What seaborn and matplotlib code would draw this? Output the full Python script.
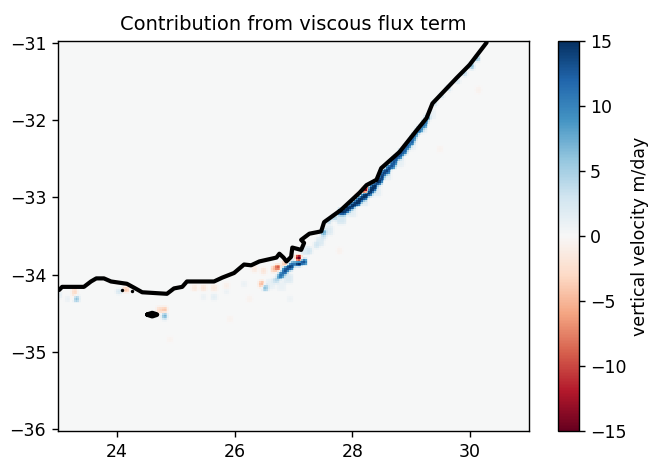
import numpy as np
import pandas as pd
import matplotlib
matplotlib.use("Agg")
import matplotlib.pyplot as plt
import seaborn as sns

title = "Contribution from viscous flux term"
cbar_label = "vertical velocity m/day"
x_ticks = [24, 26, 28, 30]
y_ticks = [-31, -32, -33, -34, -35, -36]
cbar_ticks = [-15, -10, -5, 0, 5, 10, 15]

coast_lon = [23.02, 23.07, 23.44, 23.56, 23.65, 23.78, 23.90, 24.17, 24.29, 24.43, 24.85, 24.97, 25.11, 25.19,
             25.65, 25.79, 25.99, 26.16, 26.28, 26.42, 26.71, 26.76, 26.83, 26.88, 26.96, 26.98, 27.13, 27.18,
             27.13, 27.27, 27.47, 27.52, 27.81, 28.12, 28.24, 28.41, 28.49, 28.80, 29.09, 29.26, 29.36, 29.77,
             29.99, 30.28]
coast_lat = [-34.20, -34.16, -34.16, -34.09, -34.05, -34.05, -34.09, -34.12, -34.17, -34.23, -34.25, -34.18,
             -34.16, -34.09, -34.09, -34.04, -33.98, -33.87, -33.88, -33.83, -33.78, -33.73, -33.78, -33.83,
             -33.77, -33.65, -33.68, -33.59, -33.55, -33.47, -33.44, -33.32, -33.16, -32.94, -32.84, -32.77,
             -32.62, -32.41, -32.13, -31.97, -31.78, -31.45, -31.28, -30.99]
island_lon = [24.52, 24.60, 24.68, 24.60, 24.52]
island_lat = [-34.52, -34.50, -34.52, -34.54, -34.52]
islet_lon = [24.09, 24.26]
islet_lat = [-34.20, -34.22]

halo_lon = [27.45, 27.60, 27.80, 28.00, 28.20, 28.40, 28.60, 28.80, 29.00, 29.20, 29.35,
            27.20, 26.90, 26.60, 26.80]
halo_lat = [-33.56, -33.42, -33.28, -33.18, -33.05, -32.92, -32.72, -32.53, -32.33, -32.10, -31.92,
            -33.70, -34.05, -34.12, -34.15]
halo_val = [2, 2, 2.5, 1.5, 1.5, 1.5, 1.5, 1.2, 1.2, 1.2, 1,
            2, 2, 1.2, 1]

cell_lon = [27.81, 27.90, 27.98, 28.07, 28.15, 28.24, 28.32, 28.39, 28.46, 28.54, 28.63, 28.71, 28.80, 28.88,
            28.95, 29.04, 29.12, 29.21, 29.28, 29.41, 29.53, 29.65, 29.79, 29.90, 30.02, 30.11,
            27.85, 27.94, 28.02, 28.11, 28.20, 28.28, 28.36, 28.43, 28.50, 28.58, 28.67, 28.75, 28.84, 28.92,
            29.00, 29.08, 29.17, 29.25,
            27.61, 27.52, 27.52, 27.40, 27.27, 27.69,
            28.24, 28.12, 27.10, 27.10, 27.18,
            27.01, 26.97, 26.93, 26.88, 26.84, 26.80, 26.76, 26.69,
            26.74, 26.67, 26.50, 26.84, 26.33,
            26.47, 26.52, 23.27, 23.29, 23.32, 23.02, 23.15, 24.04, 24.16,
            24.80, 24.72, 24.80, 24.80,
            25.31, 25.48, 25.65, 25.87, 25.48, 25.65, 25.87, 26.16,
            25.91, 26.25, 24.89, 26.93, 27.78, 29.48, 30.16]
cell_lat = [-33.20, -33.17, -33.12, -33.07, -33.02, -32.97, -32.91, -32.85, -32.77, -32.69, -32.62, -32.54,
            -32.47, -32.40, -32.32, -32.23, -32.14, -32.05, -31.97, -31.78, -31.67, -31.57, -31.48, -31.40,
            -31.30, -31.19,
            -33.19, -33.15, -33.10, -33.05, -33.00, -32.94, -32.88, -32.81, -32.73, -32.66, -32.58, -32.50,
            -32.43, -32.36, -32.28, -32.19, -32.10, -32.01,
            -33.32, -33.51, -33.46, -33.61, -33.68, -33.26,
            -32.91, -32.97, -33.78, -33.86, -33.83,
            -33.87, -33.89, -33.91, -33.94, -33.96, -34.00, -34.03, -34.08,
            -33.90, -33.94, -33.96, -33.87, -33.94,
            -34.13, -34.17, -34.23, -34.30, -34.32, -34.26, -34.32, -34.23, -34.20,
            -34.47, -34.45, -34.52, -34.56,
            -34.17, -34.17, -34.17, -34.14, -34.30, -34.29, -34.23, -34.13,
            -34.58, -34.32, -34.84, -34.32, -33.68, -32.38, -31.61]
cell_val = [15, 15, 15, 15, 15, 15, 15, 15, 14, 14, 13, 13, 13, 12, 12, 11, 11, 11, 9, 3, 3, 3, 2.5, 4, 6, 6,
            15, 15, 15, 15, 15, 15, 15, 15, 14, 14, 13, 13, 13, 12, 12, 11, 11, 10,
            4, 3, 8, 3, 3, 5,
            -15, -5, -15, 15, 13,
            9, 12, 14, 13, 13, 11, 9, 4,
            -9, -4, -2, -4, -1.5,
            -5, 6, -3, -2, 6, 1.5, 1, 2.5, -4,
            -4, -3, 7, 3,
            -1.5, -2, -1.5, -1, 1, 1.5, 1, 1,
            -0.5, -0.6, -0.5, 0.8, -0.7, -0.5, -0.6]

lon_min, lon_max, lat_top, lat_bottom = 23.0, 31.0, -30.97, -36.03
step_x, step_y = 0.03, 0.024
nx = int(round((lon_max - lon_min) / step_x))
ny = int(round((lat_top - lat_bottom) / step_y))
lon_per_cell = (lon_max - lon_min) / nx
lat_per_cell = (lat_top - lat_bottom) / ny


def to_x(lon):
    return (np.asarray(lon) - lon_min) / lon_per_cell


def to_y(lat):
    return (lat_top - np.asarray(lat)) / lat_per_cell


field = np.zeros((ny, nx))
for lo, la, v, r in zip(halo_lon + cell_lon, halo_lat + cell_lat, halo_val + cell_val,
                        [2] * len(halo_lon) + [1] * len(cell_lon)):
    i, j = int(to_y(la)), int(to_x(lo))
    block = field[max(i - r, 0):i + r + 1, max(j - r, 0):j + r + 1]
    block[np.abs(block) < abs(v)] = v
kernel = np.array([0.2, 0.6, 0.2])
field = np.apply_along_axis(lambda r: np.convolve(r, kernel, mode="same"), 1, field)
field = np.apply_along_axis(lambda c: np.convolve(c, kernel, mode="same"), 0, field)
frame = pd.DataFrame(field)

sns.set_theme(style="white", rc={"font.family": "DejaVu Sans"})
fig = plt.figure(figsize=(6.5, 4.62), dpi=100)
ax = fig.add_axes([58 / 650, 1 - 431 / 462, 471 / 650, 390 / 462])
cax = fig.add_axes([558 / 650, 1 - 431 / 462, 21 / 650, 390 / 462])
sns.heatmap(frame, ax=ax, cbar_ax=cax, cmap="RdBu", vmin=-15, vmax=15,
            xticklabels=False, yticklabels=False, rasterized=True)

line_style = dict(color="black", sort=False, estimator=None, solid_joinstyle="round", solid_capstyle="round")
sns.lineplot(x=to_x(coast_lon), y=to_y(coast_lat), ax=ax, lw=3.0, **line_style)
sns.lineplot(x=to_x(island_lon), y=to_y(island_lat), ax=ax, lw=3.4, **line_style)
sns.scatterplot(x=to_x(islet_lon), y=to_y(islet_lat), ax=ax, color="black", s=6, linewidth=0)

ax.set_xlim(0, nx)
ax.set_ylim(ny, 0)
ax.set_xticks(to_x(x_ticks))
ax.set_xticklabels([str(t) for t in x_ticks], rotation=0)
ax.set_yticks(to_y(y_ticks))
ax.set_yticklabels([f"\u2212{abs(t)}" for t in y_ticks], rotation=0)
ax.tick_params(axis="both", length=4.5, width=1, labelsize=12.5, color="black",
               labelcolor="black", bottom=True, left=True, pad=4)
for s in ax.spines.values():
    s.set_visible(True)
    s.set_color("black")
    s.set_linewidth(1)
ax.set_title(title, fontsize=14, color="black", pad=8)

cbar = ax.collections[0].colorbar
cbar.set_ticks(cbar_ticks)
cbar.set_ticklabels([str(t).replace("-", "\u2212") for t in cbar_ticks])
cbar.ax.tick_params(length=4.5, width=1, labelsize=12.5, color="black", labelcolor="black", right=True)
cbar.outline.set_visible(True)
cbar.outline.set_edgecolor("black")
cbar.outline.set_linewidth(1)
cbar.set_label(cbar_label, fontsize=12.5, color="black", labelpad=3.5)

fig.savefig("out.png", dpi=100)
